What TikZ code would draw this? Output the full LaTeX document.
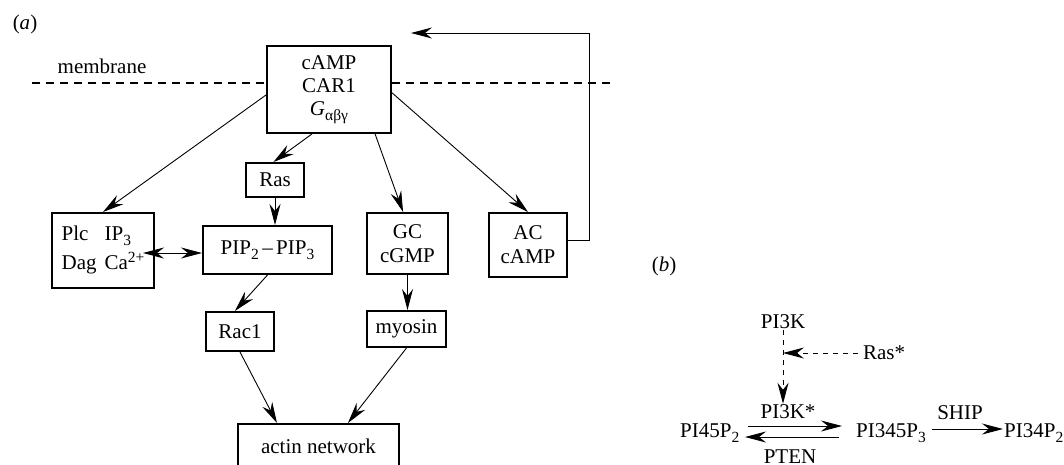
\documentclass[tikz,border=0pt]{standalone}
\usepackage{fontspec}
\setmainfont{Liberation Serif}
\usetikzlibrary{arrows.meta}
% lowered / raised indices set at a fixed size
\newcommand{\dn}[1]{\raisebox{-0.5ex}{\fontsize{15.5}{15.5}\selectfont #1}}
\newcommand{\upx}[1]{\raisebox{0.75ex}{\fontsize{15.5}{15.5}\selectfont #1}}

\begin{document}
\begin{tikzpicture}[x=1pt,y=-1pt,
  font=\fontsize{21}{23}\selectfont,
  box/.style={draw,line width=2pt,inner sep=0pt,align=center},
  lbl/.style={inner sep=1pt},
  head/.tip={Stealth[length=21pt,width=11pt,inset=7pt]},
  tip/.style={-head},
  conn/.style={tip,line width=0.9pt},
  dconn/.style={head-head,line width=0.9pt},
  memb/.style={line width=2pt,dash pattern=on 8pt off 6pt},
  dsh/.style={tip,line width=0.9pt,dash pattern=on 5pt off 5pt}]

\clip (0,0) rectangle (1064,464);
\useasboundingbox (0,0) rectangle (1064,464);

% ---------- panel (a) ----------
\node[lbl] (la) at (25,24) {(\textit{a})};
\node[lbl] (membr) at (102,66) {membrane};

\node[box,minimum width=124pt,minimum height=87pt] (top) at (329,89.5)
  {cAMP\\CAR1\\\textit{G}\dn{αβγ}};
\node[box,minimum width=58pt,minimum height=34pt] (ras) at (275,180) {Ras};
\node[box,minimum width=102pt,minimum height=75pt] (plc) at (103,250.5)
  {\begin{tabular}{@{}l@{\hspace{8pt}}l@{}}Plc & IP\dn{3}\\[5pt] Dag & Ca\upx{2+}\end{tabular}};
\node[box,minimum width=129pt,minimum height=48pt] (pip) at (267.5,250)
  {PIP\dn{2}\,–\,PIP\dn{3}};
\node[box,minimum width=81pt,minimum height=61pt] (gc) at (407.5,243.5)
  {GC\\[1pt]cGMP};
\node[box,minimum width=78pt,minimum height=64pt] (ac) at (528,245)
  {AC\\[1pt]cAMP};
\node[box,minimum width=68pt,minimum height=39pt] (rac) at (240,331.5) {Rac1};
\node[box,minimum width=79pt,minimum height=36pt] (myo) at (406.5,329) {myosin};
\node[box,minimum width=161pt,minimum height=44pt] (actin) at (318.5,446) {actin network};

% membrane line
\coordinate (ml) at (32,83);
\coordinate (mr) at (612,83);
\draw[memb] (ml) -- (ml -| top.west);
\draw[memb] (top.east |- ml) -- (mr);

% signalling connectors
\draw[conn] (top.185) -- (plc.north);
\draw[conn] (top.249) -- (ras.95);
\draw[conn] (top.316) -- (gc.98);
\draw[conn] (top.357) -- (ac.north);
\draw[conn] (ras.south) -- (ras.south |- pip.north);
\draw[dconn] ([xshift=-12pt,yshift=-2.5pt]plc.east) -- ([yshift=-3pt]pip.west);
\draw[conn] (pip.south) -- (rac.104);
\draw[conn] (gc.south) -- (gc.south |- myo.north);
\draw[conn] (rac.south) -- (actin.151);
\draw[conn] (myo.south) -- (actin.38);

% cAMP feedback loop
\coordinate (fbk) at (411,33);
\draw[conn] ([yshift=5pt]ac.east) -- ++(21,0) |- (fbk);

% ---------- panel (b) ----------
\node[lbl] (lb) at (664,266) {(\textit{b})};
\node[lbl] (pi3k) at (783,322) {PI3K};
\node[lbl] (rasst) at (884,353) {Ras*};
\node[lbl] (pi3ks) at (788,412) {PI3K*};
\node[lbl,anchor=west] (pi45) at (679,433) {PI45P\dn{2}};
\node[lbl] (pi345) at (891,433) {PI345P\dn{3}};
\node[lbl,anchor=west] (pi34) at (1003,433) {PI34P\dn{2}};
\node[lbl] (ship) at (960,413) {SHIP};
\node[lbl] (pten) at (790,457) {PTEN};

\draw[dsh] (pi3k.south) -- (pi3k.south |- pi3ks.north);
\draw[dsh] ([xshift=-4pt]rasst.west) -- (pi3k.south |- rasst.west);

\coordinate (fa) at (748,426);
\coordinate (fb) at (842,426);
\draw[conn] (fa) -- (fb);
\coordinate (ba) at (839,437);
\coordinate (bb) at (745,437);
\draw[conn] (ba) -- (bb);
\coordinate (sa) at (932,429);
\draw[conn] (sa) -- (sa -| pi34.west);
\end{tikzpicture}
\end{document}
